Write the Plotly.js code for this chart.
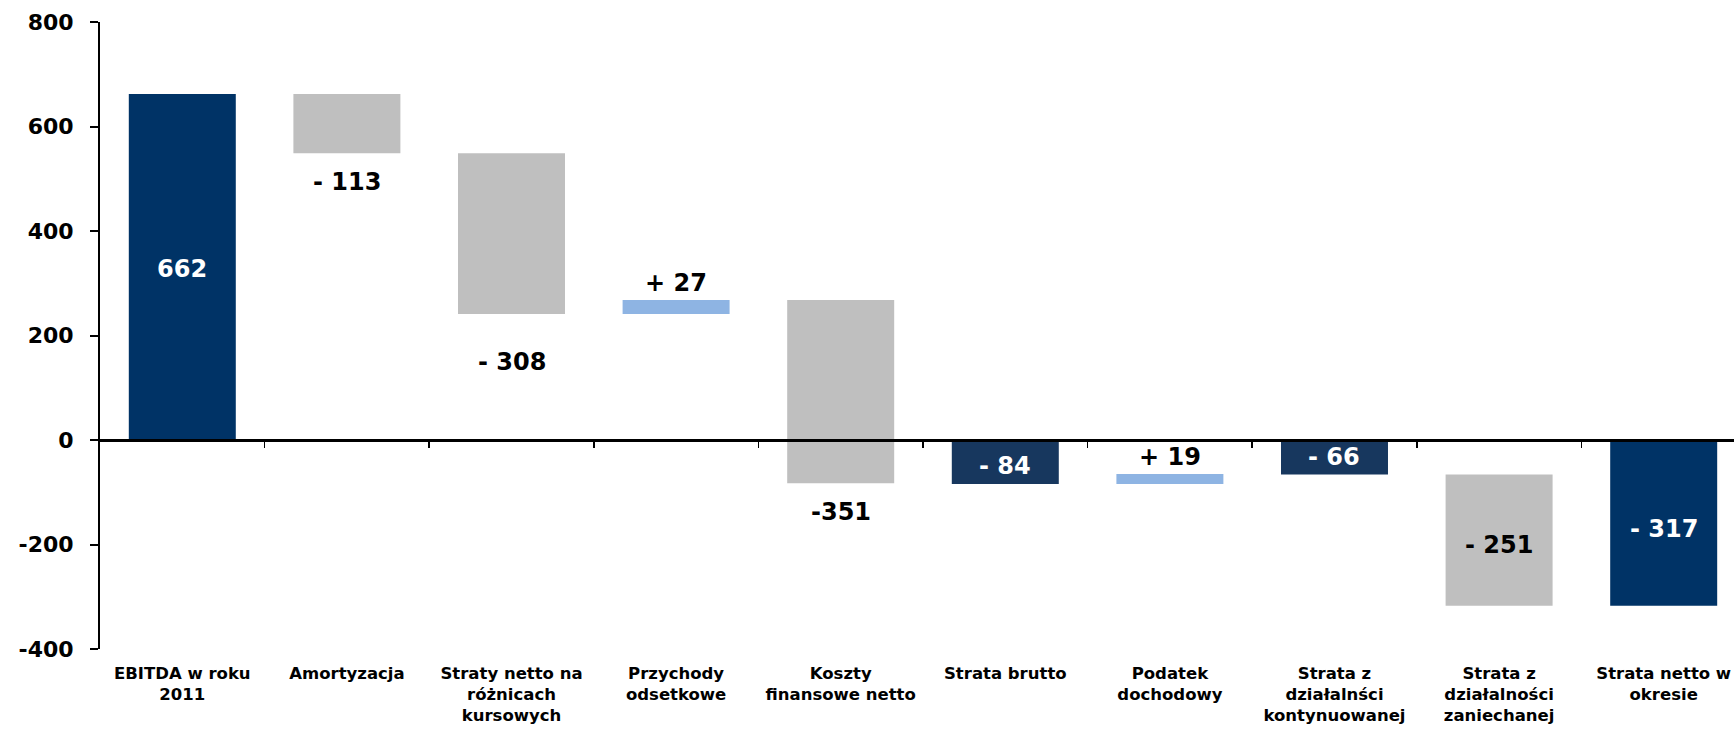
<!DOCTYPE html>
<html>
<head>
<meta charset="utf-8">
<script src="https://cdn.plot.ly/plotly-3.0.1.min.js"></script>
<style>html,body{margin:0;padding:0;background:#fff;}#chart{width:1734px;height:729px;}</style>
</head>
<body>
<div id="chart"></div>
<script>
// ---- data ----
const categories = [
  "EBITDA w roku<br>2011",
  "Amortyzacja",
  "Straty netto na<br>różnicach<br>kursowych",
  "Przychody<br>odsetkowe",
  "Koszty<br>finansowe netto",
  "Strata brutto",
  "Podatek<br>dochodowy",
  "Strata z<br>działalnści<br>kontynuowanej",
  "Strata z<br>działalności<br>zaniechanej",
  "Strata netto w<br>okresie"
];
const amounts = [662, -113, -308, 27, -351, -84, 19, -66, -251, -317];
const kinds = ["total", "delta", "delta", "delta", "delta", "total", "delta", "total", "delta", "total"];
const valueLabels = ["662", "- 113", "- 308", "+ 27", "-351", "- 84", "+ 19", "- 66", "- 251", "- 317"];
const yTicks = [-400, -200, 0, 200, 400, 600, 800];

// ---- styles ----
const NAVY = "#003366", NAVY2 = "#17375E", GREY = "#BFBFBF", LIGHT = "#8EB4E3";
const barColors = [NAVY, GREY, GREY, LIGHT, GREY, NAVY2, LIGHT, NAVY2, GREY, NAVY];
// label placement: where the label sits relative to its bar, and pixel nudge
const labelPlace = ["in", "below", "below", "above", "below", "in", "above", "in", "in", "in"];
const labelNudge = [-2, 29, 48, 17, 29, -4, 17, 0, -5, -6];
const FONT = "DejaVu Sans, Liberation Sans, Arial, sans-serif";

// ---- waterfall geometry from data ----
const bases = [], heights = [];
let running = 0;
amounts.forEach((v, i) => {
  if (kinds[i] === "total") { bases.push(0); heights.push(v); running = v; }
  else { bases.push(running); heights.push(v); running += v; }
});

const annotations = categories.map((c, i) => {
  const lo = Math.min(bases[i], bases[i] + heights[i]);
  const hi = Math.max(bases[i], bases[i] + heights[i]);
  let y, shift;
  if (labelPlace[i] === "in") { y = (lo + hi) / 2; shift = labelNudge[i]; }
  else if (labelPlace[i] === "below") { y = lo; shift = -labelNudge[i]; }
  else { y = hi; shift = labelNudge[i]; }
  const onDark = labelPlace[i] === "in" && barColors[i] !== GREY;
  return {
    x: c, y: y, xref: "x", yref: "y", text: valueLabels[i], showarrow: false,
    yanchor: "middle", xanchor: "center", yshift: shift,
    font: {family: FONT, size: 24, color: onDark ? "#ffffff" : "#000000", weight: "bold"}
  };
});

const n = categories.length;
const boundaries = [];
for (let k = 0; k < n - 1; k++) boundaries.push(k + 0.5);
const xr = [-0.5, n - 0.5 - 12 / 164.7];
const yr = [yTicks[0], yTicks[yTicks.length - 1]];

const traces = [
  {
    type: "bar", x: categories, y: heights, base: bases, width: 0.65,
    marker: {color: barColors, line: {width: 0}}, hoverinfo: "skip", showlegend: false
  },
  {
    type: "scatter", x: [0], y: [0], xaxis: "x2", yaxis: "y", mode: "markers",
    marker: {opacity: 0}, hoverinfo: "skip", showlegend: false
  }
];

const layout = {
  width: 1734, height: 729,
  margin: {l: 100, r: 0, t: 22, b: 80, pad: 0},
  paper_bgcolor: "#ffffff", plot_bgcolor: "#ffffff",
  showlegend: false,
  bargap: 0.35,
  xaxis: {
    type: "category", range: xr, showgrid: false, zeroline: false, showline: false,
    ticks: "", tickfont: {family: FONT, size: 16.5, color: "#000000", weight: "bold"},
    ticklabelstandoff: 12, fixedrange: true, automargin: false
  },
  xaxis2: {
    overlaying: "x", anchor: "free", position: (0 - yr[0]) / (yr[1] - yr[0]),
    range: xr, showgrid: false, zeroline: false, showline: true, linecolor: "#000000", linewidth: 2.5,
    ticks: "outside", tickvals: boundaries, ticklen: 6, tickwidth: 1.5, tickcolor: "#000000",
    showticklabels: false, fixedrange: true
  },
  yaxis: {
    range: yr, tickvals: yTicks, ticktext: yTicks.map(String),
    showgrid: false, zeroline: false, showline: true, linecolor: "#000000", linewidth: 2,
    ticks: "outside", ticklen: 8, tickwidth: 2, tickcolor: "#000000",
    tickfont: {family: FONT, size: 22, color: "#000000", weight: "bold"},
    ticklabelstandoff: 12, fixedrange: true, automargin: false
  },
  annotations: annotations
};

Plotly.newPlot("chart", traces, layout, {displayModeBar: false, staticPlot: true});
</script>
</body>
</html>
